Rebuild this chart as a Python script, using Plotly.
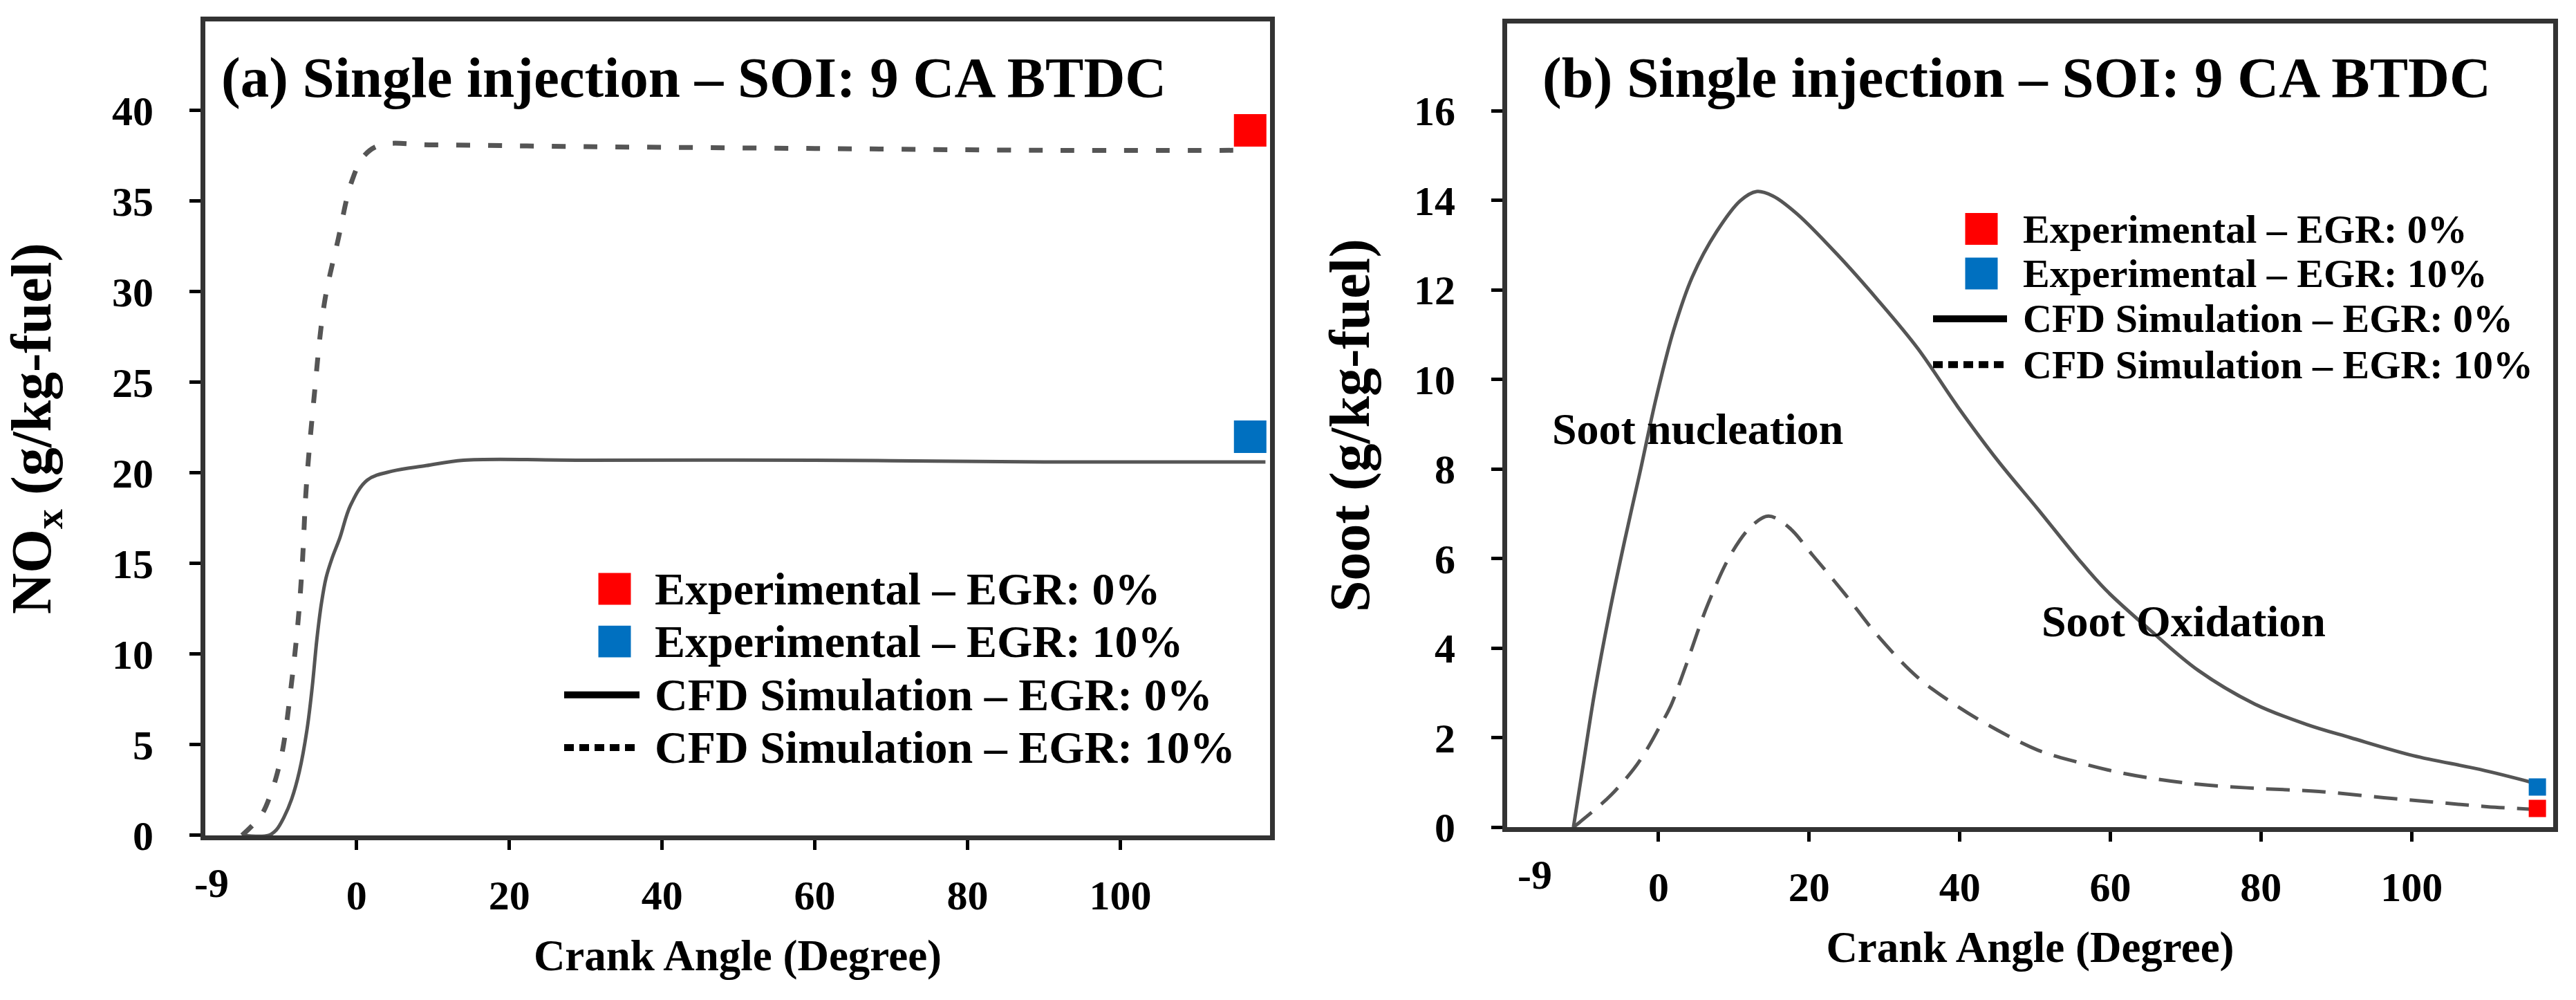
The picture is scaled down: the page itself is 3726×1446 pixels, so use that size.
import plotly.graph_objects as go

W, H = 3726, 1446
FONT = "Liberation Serif, Times New Roman, serif"

# ---------------- data ----------------
x_tick_vals = [0, 20, 40, 60, 80, 100]
x_tick_text = ["0", "20", "40", "60", "80", "100"]
x_first_label = "-9"
nox_tick_vals = [0, 5, 10, 15, 20, 25, 30, 35, 40]
soot_tick_vals = [0, 2, 4, 6, 8, 10, 12, 14, 16]

# (a) NOx, CFD simulation EGR 0 % (solid)
nox_cfd0_x = [-15, -11.5, -10.5, -9.5, -8.5, -7.5, -6.5, -5.8, -5.2, -4.6, -4.0, -3.2,
              -2.2, -0.8, 1.4, 4.7, 9.1, 14.0, 30, 60, 90, 119]
nox_cfd0_y = [0, 0, 0.3, 1.0, 2.0, 3.5, 5.8, 8.2, 10.8, 12.8, 14.2, 15.3,
              16.4, 18.2, 19.6, 20.1, 20.4, 20.7, 20.7, 20.7, 20.6, 20.6]
# (a) NOx, CFD simulation EGR 10 % (dashed)
nox_cfd10_x = [-15, -12.5, -11.3, -10.4, -9.6, -8.6, -7.7, -7.1, -6.6, -5.6, -4.2, -2.4,
               -0.7, 1.0, 3.2, 10, 30, 60, 90, 117]
nox_cfd10_y = [0, 1.1, 2.2, 3.4, 4.9, 8.1, 11.6, 15.0, 19.1, 24.0, 29.4, 32.9,
               36.0, 37.5, 38.1, 38.1, 38.0, 37.9, 37.8, 37.8]
# (a) NOx, experiments
nox_exp_x = [117]
nox_exp_egr0 = [38.9]
nox_exp_egr10 = [22.0]

# (b) Soot, CFD simulation EGR 0 % (solid)
soot_cfd0_x = [-11.3, -10.0, -8.5, -6.5, -4.5, -2.5, -0.3, 2.0, 4.5, 7.7, 10.9, 13.0,
               15.2, 18.4, 23.7, 29.0, 34.4, 39.7, 45.0, 50.4, 55.7, 59.4, 65.3, 71.7,
               79.2, 86.0, 91.9, 100.2, 109.1, 116.0]
soot_cfd0_y = [0.0, 1.4, 3.0, 4.8, 6.4, 7.9, 9.6, 11.1, 12.3, 13.3, 14.0, 14.2,
               14.1, 13.7, 12.8, 11.8, 10.7, 9.4, 8.2, 7.1, 6.0, 5.3, 4.4, 3.5,
               2.75, 2.3, 2.0, 1.6, 1.29, 1.0]
# (b) Soot, CFD simulation EGR 10 % (dashed)
soot_cfd10_x = [-11.3, -8.4, -6.3, -3.3, -1.5, 0.0, 1.6, 3.4, 6.6, 9.8, 12.5, 14.6,
                17.3, 20.5, 24.8, 29.0, 34.4, 39.7, 45.0, 50.4, 55.7, 61.0, 66.4, 71.7,
                79.2, 87.7, 96.3, 103.7, 110.0, 116.0]
soot_cfd10_y = [0.0, 0.4, 0.72, 1.3, 1.75, 2.2, 2.7, 3.5, 5.0, 6.15, 6.75, 6.95,
                6.7, 6.07, 5.2, 4.3, 3.35, 2.7, 2.17, 1.72, 1.45, 1.23, 1.07, 0.96,
                0.87, 0.8, 0.66, 0.55, 0.46, 0.4]
# (b) Soot, experiments
soot_exp_x = [116.7]
soot_exp_egr0 = [0.42]
soot_exp_egr10 = [0.9]

legend_labels = ["Experimental – EGR: 0%", "Experimental – EGR: 10%",
                 "CFD Simulation – EGR: 0%", "CFD Simulation – EGR: 10%"]
panel_titles = ["(a) Single injection – SOI: 9 CA BTDC",
                "(b) Single injection – SOI: 9 CA BTDC"]
x_title = "Crank Angle (Degree)"
y_titles = ["NO<sub>x</sub> (g/kg-fuel)", "Soot (g/kg-fuel)"]
soot_notes = ["Soot nucleation", "Soot Oxidation"]

RED = "#FF0000"
BLUE = "#0070C0"
LINE = "#555555"

# ---------------- helpers for layout positions (pixels -> paper) ----------------
def px(x):
    return x / W

def py(y):
    return 1 - y / H

fig = go.Figure()

# panel (a)
fig.add_trace(go.Scatter(x=nox_cfd0_x, y=nox_cfd0_y, mode="lines", line=dict(color=LINE, width=5),
                         line_shape="spline", showlegend=False, xaxis="x", yaxis="y"))
fig.add_trace(go.Scatter(x=nox_cfd10_x, y=nox_cfd10_y, mode="lines",
                         line=dict(color=LINE, width=7, dash="20px,26px"),
                         line_shape="spline", showlegend=False, xaxis="x", yaxis="y"))
fig.add_trace(go.Scatter(x=nox_exp_x, y=nox_exp_egr0, mode="markers",
                         marker=dict(symbol="square", size=47, color=RED), showlegend=False,
                         xaxis="x", yaxis="y"))
fig.add_trace(go.Scatter(x=nox_exp_x, y=nox_exp_egr10, mode="markers",
                         marker=dict(symbol="square", size=47, color=BLUE), showlegend=False,
                         xaxis="x", yaxis="y"))

# panel (b)
fig.add_trace(go.Scatter(x=soot_cfd0_x, y=soot_cfd0_y, mode="lines", line=dict(color=LINE, width=5),
                         line_shape="spline", showlegend=False, xaxis="x2", yaxis="y2"))
fig.add_trace(go.Scatter(x=soot_cfd10_x, y=soot_cfd10_y, mode="lines",
                         line=dict(color=LINE, width=5, dash="34px,18px"),
                         line_shape="spline", showlegend=False, xaxis="x2", yaxis="y2"))
fig.add_trace(go.Scatter(x=soot_exp_x, y=soot_exp_egr0, mode="markers",
                         marker=dict(symbol="square", size=25, color=RED), showlegend=False,
                         xaxis="x2", yaxis="y2"))
fig.add_trace(go.Scatter(x=soot_exp_x, y=soot_exp_egr10, mode="markers",
                         marker=dict(symbol="square", size=25, color=BLUE), showlegend=False,
                         xaxis="x2", yaxis="y2"))

tickfont = dict(family=FONT, size=60, color="black", weight="bold")
titlefont = dict(family=FONT, size=63, color="black", weight="bold")
axis_common = dict(showline=True, mirror=True, linecolor="#333333", linewidth=7,
                   ticks="outside", tickwidth=5, tickcolor="black", showgrid=False,
                   zeroline=False, tickfont=tickfont)

fig.update_layout(
    width=W, height=H, autosize=False,
    margin=dict(l=0, r=0, t=0, b=0),
    paper_bgcolor="white", plot_bgcolor="white",
    xaxis=dict(axis_common, domain=[px(297), px(1837)], range=[-19.8, 119.6],
               tickvals=x_tick_vals, ticktext=x_tick_text, ticklen=14, ticklabelstandoff=14,
               anchor="y",
               title=dict(text=x_title, font=titlefont, standoff=34)),
    yaxis=dict(axis_common, domain=[py(1237), py(32)], range=[0, 44.9],
               tickvals=nox_tick_vals, ticklen=16, ticklabelstandoff=40, anchor="x",
               title=dict(text=y_titles[0], font=dict(titlefont, size=82), standoff=66)),
    xaxis2=dict(axis_common, domain=[px(2180), px(3693)], range=[-20.1, 118.8],
                tickvals=x_tick_vals, ticktext=x_tick_text, ticklen=14, ticklabelstandoff=14,
                anchor="y2",
                title=dict(text=x_title, font=titlefont, standoff=34)),
    yaxis2=dict(axis_common, domain=[py(1225), py(35)], range=[0, 17.95],
                tickvals=soot_tick_vals, ticklen=16, ticklabelstandoff=40, anchor="x2",
                title=dict(text=y_titles[1], font=dict(titlefont, size=82), standoff=40)),
)

annotations = []
shapes = []

# "-9" first tick labels
for xref, yref, xv in [("x", "y domain", -19.0), ("x2", "y2 domain", -16.4)]:
    annotations.append(dict(x=xv, y=0, xref=xref, yref=yref, text=x_first_label,
                            showarrow=False, xanchor="center", yanchor="top", yshift=-34,
                            font=tickfont))

# panel titles
annotations.append(dict(x=px(318), y=py(115), xref="paper", yref="paper", text=panel_titles[0],
                        showarrow=False, xanchor="left", yanchor="middle",
                        font=dict(family=FONT, size=83, color="black", weight="bold")))
annotations.append(dict(x=px(2229), y=py(115), xref="paper", yref="paper", text=panel_titles[1],
                        showarrow=False, xanchor="left", yanchor="middle",
                        font=dict(family=FONT, size=83, color="black", weight="bold")))

# soot notes
annotations.append(dict(x=px(2243), y=py(635), xref="paper", yref="paper", text=soot_notes[0],
                        showarrow=False, xanchor="left", yanchor="middle",
                        font=dict(family=FONT, size=64, color="black", weight="bold")))
annotations.append(dict(x=px(2951), y=py(920), xref="paper", yref="paper", text=soot_notes[1],
                        showarrow=False, xanchor="left", yanchor="middle",
                        font=dict(family=FONT, size=64, color="black", weight="bold")))


def add_legend(rows_y, sq_cx, sq, line_x0, line_x1, text_x, fsize):
    colors = [RED, BLUE]
    for i, label in enumerate(legend_labels):
        yy = rows_y[i]
        if i < 2:
            shapes.append(dict(type="rect", xref="paper", yref="paper",
                               x0=px(sq_cx - sq / 2), x1=px(sq_cx + sq / 2),
                               y0=py(yy + sq / 2), y1=py(yy - sq / 2),
                               fillcolor=colors[i], line=dict(width=0)))
        else:
            shapes.append(dict(type="line", xref="paper", yref="paper",
                               x0=px(line_x0), x1=px(line_x1), y0=py(yy), y1=py(yy),
                               line=dict(color="black", width=10,
                                         dash="solid" if i == 2 else "14px,8px")))
        annotations.append(dict(x=px(text_x), y=py(yy), xref="paper", yref="paper", text=label,
                                showarrow=False, xanchor="left", yanchor="middle",
                                font=dict(family=FONT, size=fsize, color="black", weight="bold")))


add_legend([872, 950, 1029, 1107], 889, 47, 816, 925, 945, 66)
add_legend([339, 405, 472, 540], 2866, 47, 2796, 2903, 2924, 58)

fig.update_layout(annotations=annotations, shapes=shapes)

fig.write_html("out.html")
